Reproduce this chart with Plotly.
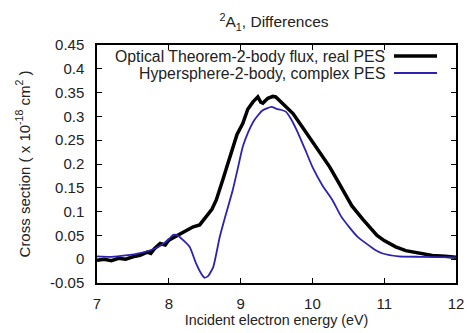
import plotly.graph_objects as go

# ---- data ----
energy_ot = [7.0, 7.1, 7.2, 7.3, 7.4, 7.5, 7.6, 7.7, 7.75, 7.8, 7.88, 7.95, 8.0, 8.05, 8.1,
             8.15, 8.25, 8.34, 8.43, 8.52, 8.6, 8.66, 8.71, 8.75, 8.8, 8.89, 8.95, 9.03,
             9.1, 9.17, 9.24, 9.28, 9.31, 9.38, 9.45, 9.49, 9.55, 9.62, 9.73, 9.85, 9.95,
             10.05, 10.24, 10.35, 10.45, 10.55, 10.7, 10.8, 10.9, 11.0, 11.16, 11.3, 11.5,
             11.67, 11.85, 12.0]
xs_ot = [-0.002, 0.000, -0.003, 0.002, 0.000, 0.005, 0.008, 0.015, 0.012, 0.022, 0.033, 0.030,
         0.040, 0.044, 0.050, 0.054, 0.060, 0.068, 0.072, 0.089, 0.105, 0.124, 0.145, 0.166,
         0.190, 0.236, 0.262, 0.285, 0.315, 0.330, 0.341, 0.330, 0.328, 0.338, 0.342, 0.341,
         0.332, 0.322, 0.306, 0.280, 0.258, 0.236, 0.194, 0.165, 0.137, 0.112, 0.084, 0.066,
         0.050, 0.039, 0.026, 0.018, 0.012, 0.008, 0.006, 0.004]

energy_hs = [7.0, 7.2, 7.4, 7.6, 7.8, 7.9, 8.0, 8.06, 8.12, 8.2, 8.29, 8.38, 8.45, 8.5, 8.55,
             8.62, 8.71, 8.8, 8.89, 8.96, 9.03, 9.1, 9.19, 9.3, 9.43, 9.5, 9.56, 9.63, 9.7,
             9.8, 9.9, 10.0, 10.14, 10.28, 10.4, 10.51, 10.63, 10.75, 10.87, 10.98, 11.2,
             11.5, 12.0]
xs_hs = [0.006, 0.005, 0.008, 0.013, 0.022, 0.030, 0.042, 0.051, 0.050, 0.040, 0.026, -0.009,
         -0.030, -0.039, -0.035, -0.016, 0.047, 0.097, 0.145, 0.190, 0.236, 0.265, 0.292,
         0.312, 0.320, 0.316, 0.314, 0.310, 0.295, 0.265, 0.230, 0.194, 0.155, 0.124, 0.090,
         0.068, 0.047, 0.033, 0.020, 0.012, 0.006, 0.005, 0.004]

series_names = ["Optical Theorem-2-body flux, real PES", "Hypersphere-2-body, complex PES"]
x_ticks = [7, 8, 9, 10, 11, 12]
x_ticktext = ["7", "8", "9", "10", "11", "12"]
y_ticks = [-0.05, 0, 0.05, 0.1, 0.15, 0.2, 0.25, 0.3, 0.35, 0.4, 0.45]
y_ticktext = ["-0.05", "0", "0.05", "0.1", "0.15", "0.2", "0.25", "0.3", "0.35", "0.4", "0.45"]

BLACK = "#000000"
BLUE = "#2b22b0"
FONT = "Liberation Sans"
TXT = "#222222"

fig = go.Figure()
fig.add_trace(go.Scatter(x=energy_ot, y=xs_ot, mode="lines", name=series_names[0],
                         line=dict(color=BLACK, width=3.5), showlegend=False))
fig.add_trace(go.Scatter(x=energy_hs, y=xs_hs, mode="lines", name=series_names[1],
                         line=dict(color=BLUE, width=1.8, shape="spline", smoothing=0.5),
                         showlegend=False))

L, R, T, B = 97, 12, 45, 50
W, H = 468, 333
pw = W - L - R
ph = H - T - B

def px_x(p):
    return (p - L) / pw

def px_y(p):
    return 1 - (p - T) / ph

# manual gnuplot-style legend (text right-aligned, sample on the right)
leg_rows = [(56, BLACK, 3.5), (73, BLUE, 1.8)]
for name, (yy, col, w) in zip(series_names, leg_rows):
    fig.add_annotation(x=px_x(386), y=px_y(yy), xref="paper", yref="paper",
                       text=name, showarrow=False, xanchor="right", yanchor="middle",
                       borderpad=0,
                       font=dict(family=FONT, size=15.8, color=TXT))
    fig.add_shape(type="line", xref="paper", yref="paper",
                  x0=px_x(394), x1=px_x(437), y0=px_y(yy), y1=px_y(yy),
                  line=dict(color=col, width=w))

axis_common = dict(showgrid=False, zeroline=False, showline=True, linecolor="black",
                   linewidth=1.5, mirror="ticks", ticks="inside", ticklen=5,
                   tickwidth=1.2, tickcolor="black", automargin=False,
                   tickfont=dict(family=FONT, size=15, color=TXT))

fig.update_layout(
    width=W, height=H,
    margin=dict(l=L, r=R, t=T, b=B),
    paper_bgcolor="white", plot_bgcolor="white",
    title=dict(text="<sup>2</sup>A<sub>1</sub>, Differences", x=274 / W,
               xanchor="center", y=1 - 22 / H, yanchor="middle",
               font=dict(family=FONT, size=15.5, color=TXT)),
    xaxis=dict(range=[7, 12], tickvals=x_ticks, ticktext=x_ticktext,
               ticklabelstandoff=6,
               title=dict(text="Incident electron energy (eV)", standoff=4,
                          font=dict(family=FONT, size=14.3, color=TXT)),
               **axis_common),
    yaxis=dict(range=[-0.05, 0.45], tickvals=y_ticks, ticktext=y_ticktext,
               ticklabelstandoff=8,
               title=dict(text="Cross section ( x 10<sup>-18</sup> cm<sup>2</sup> )", standoff=16,
                          font=dict(family=FONT, size=15, color=TXT)),
               **axis_common),
)

fig.write_html("out.html")
